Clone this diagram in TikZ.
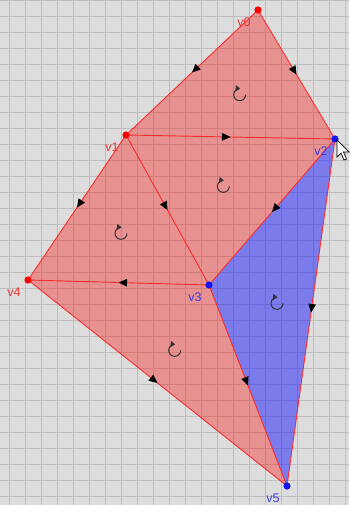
\documentclass[tikz,border=0pt]{standalone}
\usepackage{fontspec}
\setsansfont{Liberation Sans}
\usetikzlibrary{arrows.meta, decorations.markings, calc}

\definecolor{bggray}{RGB}{221,221,221}
\definecolor{gridgray}{RGB}{190,190,190}
\definecolor{meshred}{RGB}{250,45,45}
\definecolor{meshblue}{RGB}{20,20,240}
\definecolor{lblred}{RGB}{235,50,50}
\definecolor{lblblue}{RGB}{60,60,230}

\begin{document}
\begin{tikzpicture}[x=1pt, y=-1pt,
    gridline/.style={gridgray, line width=1pt},
    redface/.style={fill=red, fill opacity=0.34},
    blueface/.style={fill=blue, fill opacity=0.44},
    meshedge/.style={meshred, line width=0.9pt, postaction={decorate},
      decoration={markings, mark=at position 0.5 with {\arrow[black]{Triangle[length=8.5pt,width=7.5pt]}}}},
    orient/.style={black!80, line width=1pt, -{Triangle[length=4.5pt,width=6pt]}},
    vlabel/.style={font=\sffamily\fontsize{12.5}{14}\selectfont, inner sep=0pt},
    cursor/.style={fill=white, draw=black, line width=0.7pt, line join=miter}]
    % Background and grid
    \useasboundingbox (0,0) rectangle (349,505);
    \fill[bggray] (0,0) rectangle (349,505);
    \foreach \gx in {0,...,21}
        \draw[gridline] ({9.3+16*\gx},0) -- ({9.3+16*\gx},505);
    \foreach \gy in {0,...,31}
        \draw[gridline] (0,{0.7+16*\gy}) -- (349,{0.7+16*\gy});

    % Vertices
    \coordinate (v0) at (258,10);
    \coordinate (v1) at (126,135);
    \coordinate (v2) at (335,139);
    \coordinate (v3) at (209,285);
    \coordinate (v4) at (28,280);
    \coordinate (v5) at (287,486);

    % Faces
    \foreach \a/\b/\c in {v0/v1/v2, v1/v2/v3, v1/v3/v4, v3/v4/v5}
        \fill[redface] (\a) -- (\b) -- (\c) -- cycle;
    \fill[blueface] (v2) -- (v3) -- (v5) -- cycle;

    % Edges, from lower to higher index
    \foreach \a/\b in {v0/v1, v0/v2, v1/v2, v1/v3, v1/v4, v2/v3, v2/v5, v3/v4, v3/v5, v4/v5}
        \draw[meshedge] (\a) -- (\b);

    % Face orientation marks
    \foreach \a/\b/\c in {v0/v1/v2, v1/v2/v3, v1/v3/v4, v3/v4/v5, v2/v3/v5}
        \draw[orient] ($(barycentric cs:\a=1,\b=1,\c=1)+(6,0)$)
            arc[start angle=0, end angle=-275, radius=6pt];

    % Vertex dots and names
    \foreach \v/\dot/\txt in {v0/red/lblred, v1/red/lblred, v2/meshblue/lblblue,
                              v3/meshblue/lblblue, v4/red/lblred, v5/meshblue/lblblue} {
        \fill[\dot] (\v) circle (3.6pt);
        \node[vlabel, text=\txt] (l\v) at ($(\v)+(-14,12)$) {\v};
    }

    % Mouse pointer
    \draw[cursor] (337,140) -- ++(0,17) -- ++(4,-4) -- ++(3,7) -- ++(2.5,-1)
        -- ++(-3,-7) -- ++(5.5,0) -- cycle;
\end{tikzpicture}
\end{document}
